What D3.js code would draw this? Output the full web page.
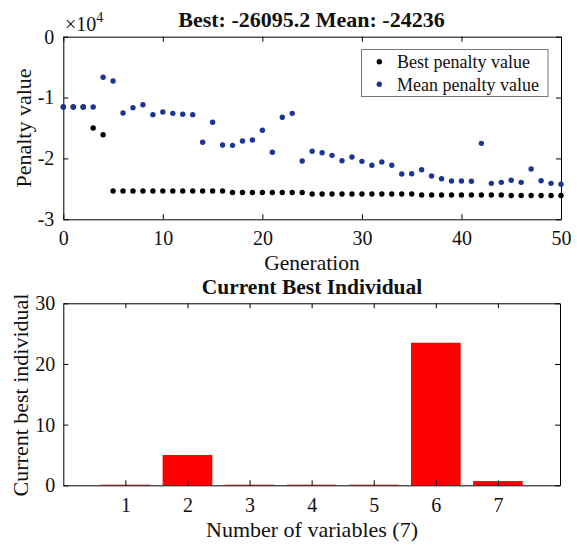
<!DOCTYPE html>
<meta charset="utf-8">
<style>
body { margin: 0; background: #fff; }
text { font-family: "Liberation Serif", "Times New Roman", serif; fill: #111; }
.tick text { font-size: 20px; }
.axis path, .axis line { stroke: #000; }
.ttl { font-weight: bold; font-size: 22px; }
.lbl { font-size: 22px; }
</style>
<svg width="577" height="546"></svg>
<script src="https://d3js.org/d3.v7.min.js"></script>
<script>

// top panel: penalty per generation
var generations = d3.range(0, 51);
var bestPenalty = [-11550, -11550, -11550, -15000, -16100,
  -25350, -25350, -25350, -25350, -25350, -25350, -25350, -25350, -25350, -25350, -25350, -25350,
  -25600, -25600, -25600, -25600, -25600, -25600, -25600, -25600,
  -25850, -25850, -25850, -25850, -25850, -25850, -25850, -25850, -25850, -25850, -25850,
  -26000, -26000, -26000, -26000, -26000, -26000, -26000, -26000, -26000,
  -26095.2, -26095.2, -26095.2, -26095.2, -26095.2, -26095.2];
var meanPenalty = [-11550, -11550, -11550, -11550, -6670, -7280, -12530, -11660, -11170, -12810,
  -12370, -12590, -12750, -12810, -17350, -14060, -17790, -17850, -17130, -16970,
  -15380, -18990, -13240, -12590, -20420, -18830, -19060, -19490, -20370, -19760,
  -20480, -21130, -20590, -21130, -22560, -22510, -21850, -22890, -23330, -23710,
  -23710, -23760, -17520, -24090, -23930, -23590, -23930, -21730, -23660, -24090, -24236];
var genTicks = [0, 10, 20, 30, 40, 50];
var penTicks = [0, -10000, -20000, -30000];

// bottom panel: current best individual
var variables = [1, 2, 3, 4, 5, 6, 7];
var individual = [0.1, 5.0, 0.1, 0.1, 0.1, 23.5, 0.7];
var indTicks = [0, 10, 20, 30];

var svg = d3.select("svg");

var L = 63.3, R = 561;

// ---------- top plot ----------
var x1 = d3.scaleLinear().domain([0, 50]).range([L, R]);
var y1 = d3.scaleLinear().domain([-30000, 0]).range([219.3, 36.7]);

var topG = svg.append("g");

topG.append("g").attr("class", "axis")
    .attr("transform", "translate(0," + y1(-30000) + ")")
    .call(d3.axisBottom(x1).tickValues(genTicks).tickSizeInner(-5).tickSizeOuter(0).tickPadding(12));
topG.append("g").attr("class", "axis")
    .attr("transform", "translate(0," + y1(0) + ")")
    .call(d3.axisTop(x1).tickValues(genTicks).tickSizeInner(-5).tickSizeOuter(0).tickFormat(""));
topG.append("g").attr("class", "axis")
    .attr("transform", "translate(" + L + ",0)")
    .call(d3.axisLeft(y1).tickValues(penTicks).tickSizeInner(-5).tickSizeOuter(0).tickPadding(9)
      .tickFormat(function(d) { return d / 10000; }));
topG.append("g").attr("class", "axis")
    .attr("transform", "translate(" + R + ",0)")
    .call(d3.axisRight(y1).tickValues(penTicks).tickSizeInner(-5).tickSizeOuter(0).tickFormat(""));

topG.selectAll(".best").data(generations).enter().append("circle")
    .attr("cx", function(d) { return x1(d); })
    .attr("cy", function(d, i) { return y1(bestPenalty[i]); })
    .attr("r", 2.7).attr("fill", "#000");
topG.selectAll(".mean").data(generations).enter().append("circle")
    .attr("cx", function(d) { return x1(d); })
    .attr("cy", function(d, i) { return y1(meanPenalty[i]); })
    .attr("r", 2.7).attr("fill", "#1a3593");

topG.append("text").attr("class", "ttl").attr("x", 311.5).attr("y", 26.5)
    .attr("text-anchor", "middle").text("Best: -26095.2 Mean: -24236");
var ex = topG.append("text").attr("x", 65).attr("y", 30.5).style("font-size", "20px");
ex.append("tspan").text("\u00d710");
ex.append("tspan").attr("dy", -9).style("font-size", "14px").text("4");

topG.append("text").attr("class", "lbl")
    .attr("transform", "translate(31,128) rotate(-90)")
    .attr("text-anchor", "middle").text("Penalty value");
topG.append("text").attr("class", "lbl").attr("x", 312).attr("y", 270)
    .style("font-size", "21.5px")
    .attr("text-anchor", "middle").text("Generation");

// legend
var lg = topG.append("g");
lg.append("rect").attr("x", 361.5).attr("y", 49.5).attr("width", 186.5).attr("height", 47)
    .attr("fill", "#fff").attr("stroke", "#777");
[["Best penalty value", "#000"], ["Mean penalty value", "#1a3593"]].forEach(function(e, i) {
  lg.append("circle").attr("cx", 379.3).attr("cy", 61.7 + i * 22.6).attr("r", 2.7).attr("fill", e[1]);
  lg.append("text").attr("x", 397).attr("y", 68.3 + i * 22.4).style("font-size", "18px").text(e[0]);
});

// ---------- bottom plot ----------
var x2 = d3.scaleLinear().domain([0, 8]).range([L, 560]);
var y2 = d3.scaleLinear().domain([0, 30]).range([485.3, 303.3]);
var bw = x2(0.8) - x2(0);

var bot = svg.append("g");

bot.selectAll(".bar").data(variables).enter().append("rect")
    .attr("x", function(d) { return x2(d) - bw / 2; })
    .attr("width", bw)
    .attr("y", function(d, i) { return y2(individual[i]); })
    .attr("height", function(d, i) { return y2(0) - y2(individual[i]); })
    .attr("fill", "#ff0000");

bot.append("g").attr("class", "axis")
    .attr("transform", "translate(0," + y2(0) + ")")
    .call(d3.axisBottom(x2).tickValues(variables).tickSizeInner(-5).tickSizeOuter(0).tickPadding(13));
bot.append("g").attr("class", "axis")
    .attr("transform", "translate(0," + y2(30) + ")")
    .call(d3.axisTop(x2).tickValues(variables).tickSizeInner(-5).tickSizeOuter(0).tickFormat(""));
bot.append("g").attr("class", "axis")
    .attr("transform", "translate(" + L + ",0)")
    .call(d3.axisLeft(y2).tickValues(indTicks).tickSizeInner(-5).tickSizeOuter(0).tickPadding(8));
bot.append("g").attr("class", "axis")
    .attr("transform", "translate(560,0)")
    .call(d3.axisRight(y2).tickValues(indTicks).tickSizeInner(-5).tickSizeOuter(0).tickFormat(""));

bot.append("text").attr("class", "ttl").attr("x", 312).attr("y", 294)
    .style("font-size", "21.5px")
    .attr("text-anchor", "middle").text("Current Best Individual");
bot.append("text").attr("class", "lbl")
    .attr("transform", "translate(27.5,395) rotate(-90)")
    .attr("text-anchor", "middle").text("Current best individual");
bot.append("text").attr("class", "lbl").attr("x", 312).attr("y", 537)
    .attr("text-anchor", "middle").text("Number of variables (7)");

</script>
